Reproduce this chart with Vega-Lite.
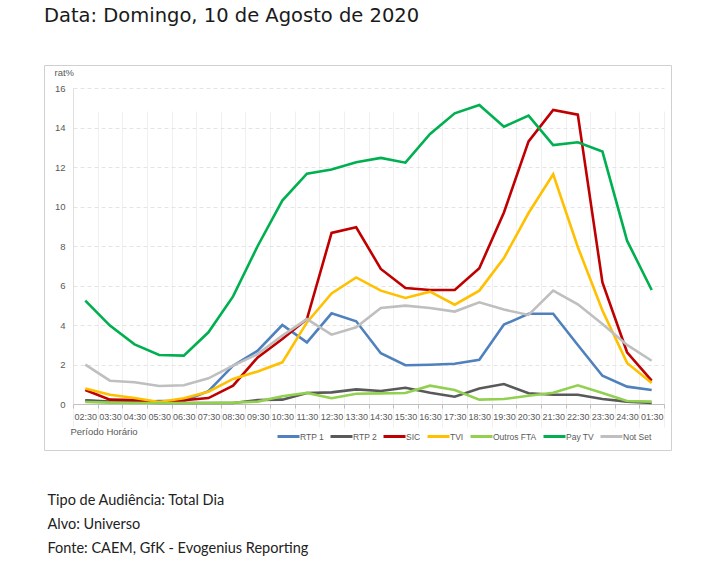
{
  "$schema": "https://vega.github.io/schema/vega-lite/v6.json",
  "background": "white",
  "padding": {"left": 43, "top": 5, "right": 5, "bottom": 5},
  "title": {
    "text": ["Tipo de Audiência: Total Dia", "Alvo: Universo", "Fonte: CAEM, GfK - Evogenius Reporting"],
    "orient": "bottom", "anchor": "start", "dx": 4, "offset": 43,
    "font": "Lato", "fontSize": 14.5, "fontWeight": "normal", "color": "#222222", "lineHeight": 24
  },
  "config": {
    "view": {"stroke": "#d0d0d0", "strokeWidth": 1},
    "font": "Liberation Sans"
  },
  "vconcat": [
    {
      "width": 627,
      "height": 385,
      "title": {"text": "Data: Domingo, 10 de Agosto de 2020", "anchor": "start", "font": "DejaVu Sans", "fontSize": 19.5, "fontWeight": "normal", "color": "#1a1a1a", "offset": 39},
      "data": {
        "values": [
          {"t":"02:30","c":"RTP 1","v":0.17},{"t":"03:30","c":"RTP 1","v":0.1},{"t":"04:30","c":"RTP 1","v":0.1},{"t":"05:30","c":"RTP 1","v":0.15},{"t":"06:30","c":"RTP 1","v":0.15},{"t":"07:30","c":"RTP 1","v":0.65},{"t":"08:30","c":"RTP 1","v":1.94},{"t":"09:30","c":"RTP 1","v":2.7},{"t":"10:30","c":"RTP 1","v":4.0},{"t":"11:30","c":"RTP 1","v":3.12},{"t":"12:30","c":"RTP 1","v":4.59},{"t":"13:30","c":"RTP 1","v":4.19},{"t":"14:30","c":"RTP 1","v":2.57},{"t":"15:30","c":"RTP 1","v":1.96},{"t":"16:30","c":"RTP 1","v":1.99},{"t":"17:30","c":"RTP 1","v":2.04},{"t":"18:30","c":"RTP 1","v":2.24},{"t":"19:30","c":"RTP 1","v":4.02},{"t":"20:30","c":"RTP 1","v":4.57},{"t":"21:30","c":"RTP 1","v":4.57},{"t":"22:30","c":"RTP 1","v":2.99},{"t":"23:30","c":"RTP 1","v":1.43},{"t":"24:30","c":"RTP 1","v":0.88},{"t":"01:30","c":"RTP 1","v":0.71},
          {"t":"02:30","c":"RTP 2","v":0.19},{"t":"03:30","c":"RTP 2","v":0.12},{"t":"04:30","c":"RTP 2","v":0.08},{"t":"05:30","c":"RTP 2","v":0.05},{"t":"06:30","c":"RTP 2","v":0.05},{"t":"07:30","c":"RTP 2","v":0.05},{"t":"08:30","c":"RTP 2","v":0.05},{"t":"09:30","c":"RTP 2","v":0.2},{"t":"10:30","c":"RTP 2","v":0.22},{"t":"11:30","c":"RTP 2","v":0.56},{"t":"12:30","c":"RTP 2","v":0.59},{"t":"13:30","c":"RTP 2","v":0.74},{"t":"14:30","c":"RTP 2","v":0.66},{"t":"15:30","c":"RTP 2","v":0.82},{"t":"16:30","c":"RTP 2","v":0.57},{"t":"17:30","c":"RTP 2","v":0.37},{"t":"18:30","c":"RTP 2","v":0.78},{"t":"19:30","c":"RTP 2","v":1.01},{"t":"20:30","c":"RTP 2","v":0.54},{"t":"21:30","c":"RTP 2","v":0.47},{"t":"22:30","c":"RTP 2","v":0.47},{"t":"23:30","c":"RTP 2","v":0.25},{"t":"24:30","c":"RTP 2","v":0.12},{"t":"01:30","c":"RTP 2","v":0.05},
          {"t":"02:30","c":"SIC","v":0.71},{"t":"03:30","c":"SIC","v":0.22},{"t":"04:30","c":"SIC","v":0.2},{"t":"05:30","c":"SIC","v":0.1},{"t":"06:30","c":"SIC","v":0.19},{"t":"07:30","c":"SIC","v":0.3},{"t":"08:30","c":"SIC","v":0.93},{"t":"09:30","c":"SIC","v":2.36},{"t":"10:30","c":"SIC","v":3.29},{"t":"11:30","c":"SIC","v":4.3},{"t":"12:30","c":"SIC","v":8.66},{"t":"13:30","c":"SIC","v":8.95},{"t":"14:30","c":"SIC","v":6.84},{"t":"15:30","c":"SIC","v":5.87},{"t":"16:30","c":"SIC","v":5.77},{"t":"17:30","c":"SIC","v":5.77},{"t":"18:30","c":"SIC","v":6.87},{"t":"19:30","c":"SIC","v":9.7},{"t":"20:30","c":"SIC","v":13.3},{"t":"21:30","c":"SIC","v":14.89},{"t":"22:30","c":"SIC","v":14.65},{"t":"23:30","c":"SIC","v":6.16},{"t":"24:30","c":"SIC","v":2.62},{"t":"01:30","c":"SIC","v":1.18},
          {"t":"02:30","c":"TVI","v":0.79},{"t":"03:30","c":"TVI","v":0.47},{"t":"04:30","c":"TVI","v":0.3},{"t":"05:30","c":"TVI","v":0.1},{"t":"06:30","c":"TVI","v":0.29},{"t":"07:30","c":"TVI","v":0.62},{"t":"08:30","c":"TVI","v":1.27},{"t":"09:30","c":"TVI","v":1.65},{"t":"10:30","c":"TVI","v":2.11},{"t":"11:30","c":"TVI","v":4.13},{"t":"12:30","c":"TVI","v":5.6},{"t":"13:30","c":"TVI","v":6.41},{"t":"14:30","c":"TVI","v":5.74},{"t":"15:30","c":"TVI","v":5.37},{"t":"16:30","c":"TVI","v":5.69},{"t":"17:30","c":"TVI","v":5.03},{"t":"18:30","c":"TVI","v":5.74},{"t":"19:30","c":"TVI","v":7.39},{"t":"20:30","c":"TVI","v":9.67},{"t":"21:30","c":"TVI","v":11.63},{"t":"22:30","c":"TVI","v":7.95},{"t":"23:30","c":"TVI","v":4.73},{"t":"24:30","c":"TVI","v":2.08},{"t":"01:30","c":"TVI","v":1.06},
          {"t":"02:30","c":"Outros FTA","v":0.1},{"t":"03:30","c":"Outros FTA","v":0.07},{"t":"04:30","c":"Outros FTA","v":0.05},{"t":"05:30","c":"Outros FTA","v":0.05},{"t":"06:30","c":"Outros FTA","v":0.05},{"t":"07:30","c":"Outros FTA","v":0.05},{"t":"08:30","c":"Outros FTA","v":0.07},{"t":"09:30","c":"Outros FTA","v":0.12},{"t":"10:30","c":"Outros FTA","v":0.39},{"t":"11:30","c":"Outros FTA","v":0.56},{"t":"12:30","c":"Outros FTA","v":0.29},{"t":"13:30","c":"Outros FTA","v":0.52},{"t":"14:30","c":"Outros FTA","v":0.54},{"t":"15:30","c":"Outros FTA","v":0.56},{"t":"16:30","c":"Outros FTA","v":0.93},{"t":"17:30","c":"Outros FTA","v":0.71},{"t":"18:30","c":"Outros FTA","v":0.22},{"t":"19:30","c":"Outros FTA","v":0.25},{"t":"20:30","c":"Outros FTA","v":0.42},{"t":"21:30","c":"Outros FTA","v":0.57},{"t":"22:30","c":"Outros FTA","v":0.95},{"t":"23:30","c":"Outros FTA","v":0.56},{"t":"24:30","c":"Outros FTA","v":0.15},{"t":"01:30","c":"Outros FTA","v":0.12},
          {"t":"02:30","c":"Pay TV","v":5.23},{"t":"03:30","c":"Pay TV","v":3.97},{"t":"04:30","c":"Pay TV","v":3.02},{"t":"05:30","c":"Pay TV","v":2.48},{"t":"06:30","c":"Pay TV","v":2.45},{"t":"07:30","c":"Pay TV","v":3.63},{"t":"08:30","c":"Pay TV","v":5.45},{"t":"09:30","c":"Pay TV","v":8.0},{"t":"10:30","c":"Pay TV","v":10.3},{"t":"11:30","c":"Pay TV","v":11.66},{"t":"12:30","c":"Pay TV","v":11.87},{"t":"13:30","c":"Pay TV","v":12.24},{"t":"14:30","c":"Pay TV","v":12.46},{"t":"15:30","c":"Pay TV","v":12.22},{"t":"16:30","c":"Pay TV","v":13.67},{"t":"17:30","c":"Pay TV","v":14.72},{"t":"18:30","c":"Pay TV","v":15.14},{"t":"19:30","c":"Pay TV","v":14.04},{"t":"20:30","c":"Pay TV","v":14.6},{"t":"21:30","c":"Pay TV","v":13.11},{"t":"22:30","c":"Pay TV","v":13.25},{"t":"23:30","c":"Pay TV","v":12.78},{"t":"24:30","c":"Pay TV","v":8.27},{"t":"01:30","c":"Pay TV","v":5.77},
          {"t":"02:30","c":"Not Set","v":1.99},{"t":"03:30","c":"Not Set","v":1.18},{"t":"04:30","c":"Not Set","v":1.1},{"t":"05:30","c":"Not Set","v":0.91},{"t":"06:30","c":"Not Set","v":0.95},{"t":"07:30","c":"Not Set","v":1.3},{"t":"08:30","c":"Not Set","v":1.94},{"t":"09:30","c":"Not Set","v":2.53},{"t":"10:30","c":"Not Set","v":3.46},{"t":"11:30","c":"Not Set","v":4.3},{"t":"12:30","c":"Not Set","v":3.51},{"t":"13:30","c":"Not Set","v":3.88},{"t":"14:30","c":"Not Set","v":4.86},{"t":"15:30","c":"Not Set","v":4.98},{"t":"16:30","c":"Not Set","v":4.86},{"t":"17:30","c":"Not Set","v":4.68},{"t":"18:30","c":"Not Set","v":5.15},{"t":"19:30","c":"Not Set","v":4.78},{"t":"20:30","c":"Not Set","v":4.51},{"t":"21:30","c":"Not Set","v":5.74},{"t":"22:30","c":"Not Set","v":5.05},{"t":"23:30","c":"Not Set","v":4.05},{"t":"24:30","c":"Not Set","v":2.99},{"t":"01:30","c":"Not Set","v":2.19}
        ]
      },
      "mark": {"type": "line", "strokeWidth": 2.6, "strokeJoin": "miter", "strokeCap": "butt"},
      "encoding": {
        "x": {
          "field": "t", "type": "ordinal", "sort": null, "bandPosition": 0.5,
          "scale": {"type": "band", "range": [29, 620], "paddingInner": 0, "paddingOuter": 0},
          "axis": {
            "offset": -46, "title": "Período Horário", "titleAnchor": "start", "titleAlign": "left", "titleX": 26, "titleY": 27, "titleBaseline": "middle",
            "titleFontSize": 9.5, "titleFontWeight": "normal", "titleColor": "#595959",
            "labelAngle": 0, "labelFontSize": 9, "labelColor": "#595959", "labelPadding": 4, "labelOverlap": false,
            "domainColor": "#bfbfbf", "tickColor": "#bfbfbf", "tickSize": 4, "tickBand": "extent",
            "grid": true, "gridColor": "#f0f0f0", "gridWidth": 1
          }
        },
        "y": {
          "field": "v", "type": "quantitative",
          "scale": {"domain": [0, 16], "range": [339, 23], "nice": false},
          "axis": {
            "offset": -29, "values": [0, 2, 4, 6, 8, 10, 12, 14, 16],
            "title": "rat%", "titleAngle": 0, "titleAlign": "left", "titleX": -19, "titleY": 7, "titleBaseline": "middle",
            "titleFontSize": 9.5, "titleFontWeight": "normal", "titleColor": "#595959",
            "labelFontSize": 9.5, "labelColor": "#595959", "labelPadding": 8, "ticks": false,
            "domainColor": "#e0e0e0",
            "grid": true, "gridColor": "#e4e4e4", "gridDash": [4, 3], "gridWidth": 1
          }
        },
        "color": {
          "field": "c", "type": "nominal",
          "scale": {
            "domain": ["RTP 1", "RTP 2", "SIC", "TVI", "Outros FTA", "Pay TV", "Not Set"],
            "range": ["#4f81bd", "#595959", "#c00000", "#ffc000", "#92d050", "#00b050", "#bfbfbf"]
          },
          "legend": {
            "title": null, "orient": "none", "legendX": 232, "legendY": 359, "direction": "horizontal",
            "gridAlign": "none",
            "symbolType": "stroke", "symbolSize": 484, "symbolStrokeWidth": 3,
            "labelFontSize": 8.5, "labelColor": "#595959", "labelOffset": -1, "columnPadding": 0
          }
        }
      }
    }
  ]
}
